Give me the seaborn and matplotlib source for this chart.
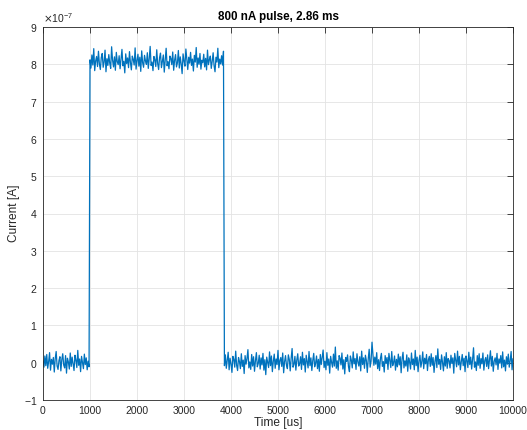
import numpy as np
import pandas as pd
import matplotlib
matplotlib.use("Agg")
import matplotlib.pyplot as plt
import seaborn as sns
from matplotlib.ticker import ScalarFormatter

# ---- data (current in nA, sampled every 20 us) ----
sample_step_us = 20
baseline_nA = [5, -12, 18, -8, 22, -15, 3, 27, -20, 9, -4, 14, -25, 11, 30, -9, -18, 6, 16, -22,
               8, 24, -6, -14, 19, -28, 12, 2, -17, 26, -10, 15, -3, -21, 20, 7, -13, 33, -7, 10,
               -24, 17, 1, -16, 23, -5, 13, -19, 4, -11]
pulse_nA = [812, 790, 825, 798, 842, 783, 809, 821, 794, 835, 801, 786, 818, 829, 792, 806, 838, 780, 815, 797,
            826, 803, 789, 847, 811, 793, 820, 784, 832, 807, 799, 823, 788, 814, 840, 796, 808, 777, 828, 802,
            817, 791, 834, 805, 785, 822, 813, 798, 844, 787, 810, 827, 795, 819, 781, 836, 804, 792, 824, 809,
            800, 831, 789, 815, 848, 797, 806, 783, 821, 812, 794, 839, 802, 786, 818, 830, 791, 808, 825, 779,
            813, 843, 796, 807, 788, 822, 816, 799, 833, 784, 811, 826, 793, 804, 837, 790, 820, 801, 775, 828,
            809, 795, 841, 812, 786, 819, 803, 832, 797, 814, 782, 824, 806, 845, 792, 817, 800, 829, 787, 811,
            804, 827, 793, 816, 785, 838, 799, 812, 822, 789, 808, 831, 796, 780, 819, 806, 843, 791, 814, 801,
            823, 798, 835]
after_nA = [-8, 21, -15, 6, 28, -19, 12, -3, -26, 17, 9, -12, 31, -7, -21, 14, 3, -16, 24, -10,
            7, -29, 19, -4, 11, 35, -14, 2, -18, 22, -9, 16, -23, 5, 27, -11, -2, 20, -17, 13,
            -6, 25, -20, 8, -32, 15, 1, -13, 29, -8, 18, -24, 4, 23, -15, 10, -5, 33, -19, 6,
            14, -10, 26, -27, 3, 19, -7, -16, 21, 9, -22, 12, 38, -12, -4, 17, -20, 7, 24, -9,
            -3, 16, -18, 28, -6, 11, -25, 20, 2, -14, 30, -8, 13, -21, 6, 25, -11, -1, 18, -16,
            9, -23, 22, -5, 15, 34, -13, 4, -19, 27, -7, 10, -28, 17, 1, -12, 23, -9, 42, -15,
            5, -20, 19, 12, -6, 26, -17, 8, -30, 14, 3, 21, -11, -24, 18, 7, -14, 29, -3, 11,
            -18, 24, 2, -9, 16, -22, 31, -5, 13, -15, 20, 6, -26, 10, 36, -12, 4, 55, 22, -7,
            15, -4, 27, -16, 8, -21, 12, 25, -10, 3, -25, 19, -2, 14, -18, 25, 7, -13, 30, -8,
            1, 18, -20, 9, -11, 23, -6, 16, -27, 11, 28, -14, 5, -9, 21, -23, 13, 2, -17, 26,
            -5, 10, -19, 33, -8, 15, -24, 6, 20, -12, 3, 29, -16, 12, -3, 22, -21, 8, 17, -10,
            24, -7, 14, -26, 4, 19, -13, 37, -4, 9, -18, 21, 1, -22, 16, -9, 27, -15, 11, 6,
            -14, 20, -2, 13, -28, 25, 7, -11, 31, -6, 17, -19, 3, 22, -8, 12, -24, 18, 5, -13,
            28, -5, 15, -17, 9, 40, -12, 2, -21, 19, -7, 24, -15, 11, -3, 26, -20, 6, 14, -10,
            21, -16, 8, 32, -9, 17, -23, 4, 13, -6, 25, -18, 10, -1, 19, -14, 29, -11, 7, -22,
            16, -4, 23, -12, 5, 30, -19, 11]

x_ticks = [0, 1000, 2000, 3000, 4000, 5000, 6000, 7000, 8000, 9000, 10000]
y_ticks = [-1, 0, 1, 2, 3, 4, 5, 6, 7, 8, 9]
title_text = "800 nA pulse, 2.86 ms"
x_label = "Time [us]"
y_label = "Current [A]"

current_nA = np.array(baseline_nA + pulse_nA + after_nA, dtype=float)
time_us = np.arange(len(current_nA)) * sample_step_us
df = pd.DataFrame({"Time [us]": time_us, "Current [A]": current_nA * 1e-9})

# ---- style ----
sns.set_style("white")
plt.rcParams["font.family"] = ["Liberation Sans", "DejaVu Sans"]
plt.rcParams["axes.unicode_minus"] = False

fig = plt.figure(figsize=(5.27, 4.30), dpi=100)
ax = fig.add_axes([43 / 527, 1 - 400 / 430, (513 - 43) / 527, (400 - 27) / 430])

sns.lineplot(data=df, x="Time [us]", y="Current [A]", ax=ax, color="#0072BD",
             linewidth=0.9, estimator=None, sort=False)

ax.set_xlim(0, 10000)
ax.set_ylim(-1e-7, 9e-7)
ax.set_xticks(x_ticks)
ax.set_yticks([v * 1e-7 for v in y_ticks])
fmt = ScalarFormatter(useMathText=True)
fmt.set_powerlimits((0, 0))
ax.yaxis.set_major_formatter(fmt)

ax.grid(True, color="#e3e3e3", linewidth=0.6)
ax.set_axisbelow(True)
for s in ax.spines.values():
    s.set_color("#262626")
    s.set_linewidth(0.6)
    s.set_visible(True)
ax.tick_params(direction="in", length=4, width=0.6, colors="#262626",
               labelsize=7.5, top=True, right=True, pad=4)
ax.yaxis.get_offset_text().set_fontsize(7.5)
ax.yaxis.get_offset_text().set_color("#262626")

ax.set_title(title_text, fontsize=8.4, fontweight="bold", color="black", pad=5)
ax.set_xlabel(x_label, fontsize=8.6, color="#262626", labelpad=1)
ax.set_ylabel(y_label, fontsize=8.6, color="#262626", labelpad=3)

fig.savefig("out.png", dpi=100, facecolor="white")
